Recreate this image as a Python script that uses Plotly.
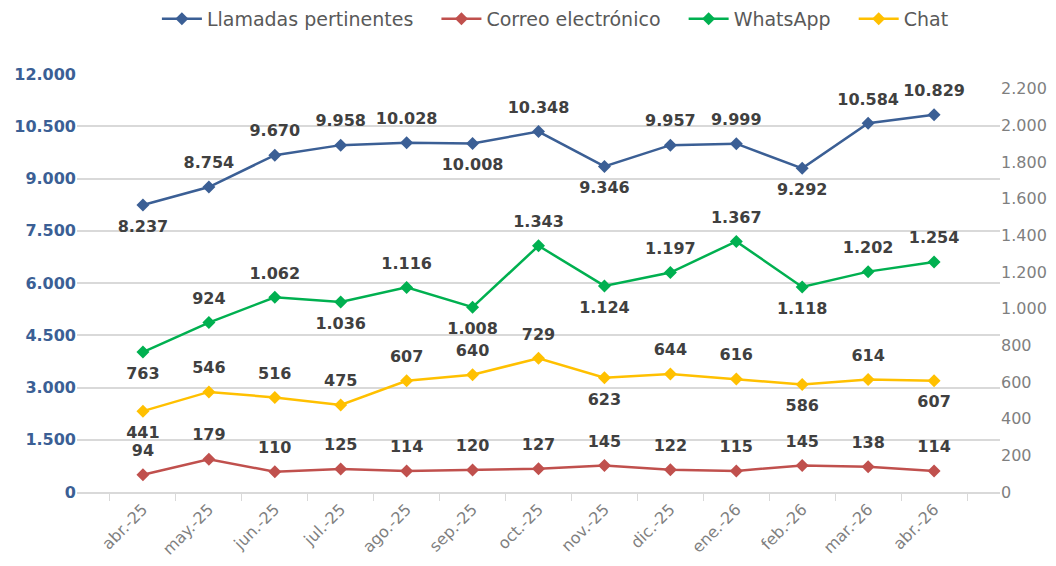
import plotly.graph_objects as go

MESES = ['abr.-25', 'may.-25', 'jun.-25', 'jul.-25', 'ago.-25', 'sep.-25', 'oct.-25',
         'nov.-25', 'dic.-25', 'ene.-26', 'feb.-26', 'mar.-26', 'abr.-26']

LLAMADAS = [8237, 8754, 9670, 9958, 10028, 10008, 10348, 9346, 9957, 9999, 9292, 10584, 10829]
CORREO = [94, 179, 110, 125, 114, 120, 127, 145, 122, 115, 145, 138, 114]
WHATSAPP = [763, 924, 1062, 1036, 1116, 1008, 1343, 1124, 1197, 1367, 1118, 1202, 1254]
CHAT = [441, 546, 516, 475, 607, 640, 729, 623, 644, 616, 586, 614, 607]

# where each data label sits (T = above the point, B = below)
POS_LLAMADAS = 'BTTTTBTBTTBTT'
POS_CORREO = 'TTTTTTTTTTTTT'
POS_WHATSAPP = 'BTTBTBTBTTBTT'
POS_CHAT = 'BTTTTTTBTTBTB'

_FONT = '"DejaVu Sans", Lato, sans-serif'
_LABEL_COLOR = '#404040'
_GRID = '#D9D9D9'
_PAD = '\u00a0\u00a0\u00a0'  # a little extra room between legend entries


def _pos(code):
    return ['top center' if c == 'T' else 'bottom center' for c in code]


def _series(fig, name, values, color, pos, axis):
    fig.add_trace(go.Scatter(
        x=MESES,
        y=values,
        name=name + _PAD,
        yaxis=axis,
        mode='lines+markers',
        line={'color': color, 'width': 2.5},
        marker={'symbol': 'diamond', 'size': 10, 'color': color},
        cliponaxis=False,
    ))
    # labels ride on a bigger invisible marker so they sit a bit further off the point
    fig.add_trace(go.Scatter(
        x=MESES,
        y=values,
        yaxis=axis,
        mode='markers+text',
        marker={'size': 22, 'color': 'rgba(0,0,0,0)'},
        texttemplate='%{y:,}',
        textposition=_pos(pos),
        textfont={'family': _FONT, 'size': 16, 'color': _LABEL_COLOR, 'weight': 'bold'},
        showlegend=False,
        hoverinfo='skip',
        cliponaxis=False,
    ))


fig = go.Figure()
_series(fig, 'Llamadas pertinentes', LLAMADAS, '#3B5F95', POS_LLAMADAS, 'y')
_series(fig, 'Correo electrónico', CORREO, '#C0504D', POS_CORREO, 'y2')
_series(fig, 'WhatsApp', WHATSAPP, '#00B050', POS_WHATSAPP, 'y2')
_series(fig, 'Chat', CHAT, '#FFC000', POS_CHAT, 'y2')

fig.update_layout(
    width=1040,
    height=550,
    margin={'l': 69, 'r': 48, 't': 66, 'b': 66},
    paper_bgcolor='white',
    plot_bgcolor='white',
    separators=',.',
    font={'family': _FONT, 'color': '#7F7F7F'},
    showlegend=True,
    legend={
        'orientation': 'h',
        'xref': 'container', 'yref': 'container',
        'x': 0.535, 'xanchor': 'center',
        'y': 0.98, 'yanchor': 'middle',
        'font': {'size': 19, 'color': '#595959'},
        'itemwidth': 40,
    },
    xaxis=dict(
        type='category',
        range=[-1, 13],
        tickson='boundaries',
        ticks='outside',
        ticklen=7,
        tickcolor=_GRID,
        showgrid=False,
        showline=True,
        linecolor=_GRID,
        linewidth=1.5,
        tickangle=-45,
        tickfont={'size': 16, 'color': '#7F7F7F'},
        automargin=False,
    ),
    yaxis=dict(
        range=[0, 12000],
        dtick=1500,
        tickformat=',',
        showgrid=True,
        gridcolor=_GRID,
        gridwidth=1.5,
        zeroline=False,
        tickfont={'size': 16, 'color': '#3B5F95', 'weight': 'bold'},
        automargin=False,
    ),
    yaxis2=dict(
        overlaying='y',
        side='right',
        range=[0, 2280],
        tickvals=list(range(0, 2201, 200)),
        tickformat=',',
        showgrid=False,
        zeroline=False,
        tickfont={'size': 16, 'color': '#7F7F7F'},
        automargin=False,
    ),
)

fig.write_html('out.html')
